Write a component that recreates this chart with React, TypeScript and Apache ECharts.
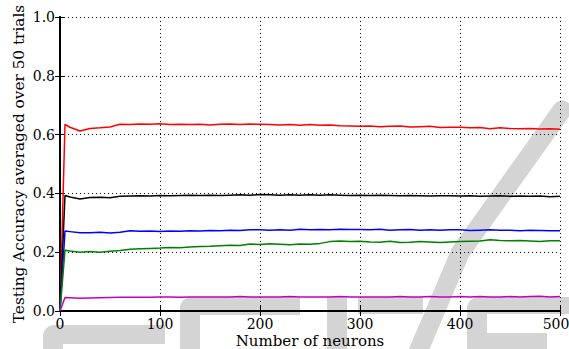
import React, { useEffect, useRef } from "react";
import * as echarts from "echarts";

const neurons = [0, 5, 10, 20, 30, 40, 50, 60, 70, 80, 90, 100, 110, 120, 130, 140, 150, 160, 170, 180, 190, 200, 210, 220, 230, 240, 250, 260, 270, 280, 290, 300, 310, 320, 330, 340, 350, 360, 370, 380, 390, 400, 410, 420, 430, 440, 450, 460, 470, 480, 490, 500];

const redSeries = [0, 0.635, 0.625, 0.612, 0.621, 0.623, 0.626, 0.635, 0.634, 0.636, 0.635, 0.637, 0.634, 0.635, 0.634, 0.635, 0.633, 0.635, 0.636, 0.634, 0.636, 0.635, 0.634, 0.633, 0.634, 0.632, 0.634, 0.632, 0.633, 0.63, 0.629, 0.628, 0.629, 0.627, 0.628, 0.629, 0.626, 0.627, 0.628, 0.624, 0.625, 0.625, 0.623, 0.624, 0.62, 0.623, 0.621, 0.62, 0.621, 0.619, 0.62, 0.618];

const blackSeries = [0, 0.393, 0.388, 0.381, 0.386, 0.387, 0.385, 0.39, 0.391, 0.392, 0.391, 0.393, 0.392, 0.393, 0.394, 0.393, 0.394, 0.393, 0.394, 0.395, 0.394, 0.396, 0.395, 0.394, 0.395, 0.394, 0.395, 0.394, 0.395, 0.394, 0.393, 0.394, 0.393, 0.394, 0.393, 0.392, 0.393, 0.392, 0.391, 0.392, 0.392, 0.391, 0.392, 0.39, 0.391, 0.392, 0.39, 0.391, 0.39, 0.391, 0.389, 0.39];

const blueSeries = [0, 0.272, 0.27, 0.266, 0.266, 0.268, 0.265, 0.268, 0.273, 0.271, 0.272, 0.27, 0.272, 0.271, 0.273, 0.272, 0.274, 0.273, 0.275, 0.274, 0.276, 0.276, 0.275, 0.276, 0.275, 0.278, 0.276, 0.277, 0.276, 0.278, 0.277, 0.277, 0.276, 0.278, 0.275, 0.276, 0.277, 0.275, 0.276, 0.275, 0.276, 0.276, 0.274, 0.275, 0.276, 0.275, 0.275, 0.273, 0.275, 0.274, 0.273, 0.273];

const greenSeries = [0, 0.207, 0.204, 0.2, 0.202, 0.2, 0.203, 0.206, 0.21, 0.212, 0.213, 0.214, 0.216, 0.215, 0.218, 0.219, 0.22, 0.222, 0.224, 0.223, 0.228, 0.226, 0.229, 0.227, 0.225, 0.228, 0.227, 0.23, 0.236, 0.238, 0.236, 0.237, 0.235, 0.234, 0.237, 0.233, 0.234, 0.236, 0.235, 0.233, 0.235, 0.236, 0.237, 0.238, 0.242, 0.24, 0.239, 0.24, 0.238, 0.236, 0.239, 0.239];

const magentaSeries = [0, 0.046, 0.045, 0.043, 0.044, 0.045, 0.046, 0.047, 0.047, 0.047, 0.047, 0.048, 0.048, 0.047, 0.048, 0.048, 0.048, 0.048, 0.048, 0.049, 0.048, 0.048, 0.048, 0.048, 0.049, 0.048, 0.048, 0.048, 0.048, 0.049, 0.048, 0.048, 0.048, 0.048, 0.048, 0.049, 0.048, 0.048, 0.049, 0.048, 0.048, 0.049, 0.048, 0.049, 0.048, 0.048, 0.049, 0.048, 0.049, 0.05, 0.048, 0.049];

const xTicks = [0, 100, 200, 300, 400, 500];
const yTicks = [0, 0.2, 0.4, 0.6, 0.8, 1.0];

const FONT = "DejaVu Serif";
const WM = "#d4d4d4";

export default function App() {
  const ref = useRef<HTMLDivElement>(null);
  useEffect(() => {
    if (!ref.current) return;
    const chart = echarts.init(ref.current, null, { renderer: "svg" });
    const mk = (ys: number[]) => neurons.map((x, i) => [x, ys[i]]);
    const axisLine = { show: true, lineStyle: { color: "#000", width: 2 } };
    const tick = { show: true, inside: true, length: 5, lineStyle: { color: "#000", width: 1 } };
    const split = { show: true, lineStyle: { color: "#000", width: 1, type: [1, 3] as any } };
    const xMax = xTicks[xTicks.length - 1];
    const series = [
      { data: mk(redSeries), color: "#ff0000" },
      { data: mk(blackSeries), color: "#000000" },
      { data: mk(blueSeries), color: "#0000ff" },
      { data: mk(greenSeries), color: "#008000" },
      { data: mk(magentaSeries), color: "#bf00bf" },
    ].map((s) => ({
      type: "line",
      data: s.data,
      showSymbol: false,
      xAxisIndex: 0,
      yAxisIndex: 0,
      lineStyle: { color: s.color, width: 1.5 },
      itemStyle: { color: s.color },
      z: 3,
    }));
    chart.setOption({
      animation: false,
      textStyle: { fontFamily: FONT },
      grid: { left: 60, right: 9, top: 17, bottom: 38, outerBoundsMode: "none", containLabel: false },
      graphic: [
        { type: "polyline", z: -1, shape: { points: [[418, 352], [460, 253], [562, 110]] }, style: { stroke: WM, lineWidth: 19, fill: null, lineCap: "round", lineJoin: "round" } },
        { type: "rect", z: -1, shape: { x: 43, y: 325, width: 122, height: 19, r: [12, 0, 0, 0] }, style: { fill: WM } },
        { type: "rect", z: -1, shape: { x: 43, y: 325, width: 20, height: 30, r: [12, 0, 0, 0] }, style: { fill: WM } },
        { type: "rect", z: -1, shape: { x: 180, y: 297, width: 120, height: 18, r: [12, 0, 0, 0] }, style: { fill: WM } },
        { type: "rect", z: -1, shape: { x: 180, y: 297, width: 20, height: 55, r: [12, 0, 0, 0] }, style: { fill: WM } },
        { type: "rect", z: -1, shape: { x: 327, y: 297, width: 20, height: 55 }, style: { fill: WM } },
        { type: "rect", z: -1, shape: { x: 358, y: 297, width: 65, height: 17 }, style: { fill: WM } },
        { type: "rect", z: -1, shape: { x: 467, y: 297, width: 102, height: 17, r: [12, 0, 0, 0] }, style: { fill: WM } },
        { type: "rect", z: -1, shape: { x: 467, y: 297, width: 20, height: 55, r: [12, 0, 0, 0] }, style: { fill: WM } },
        { type: "rect", z: -1, shape: { x: 467, y: 333, width: 80, height: 20 }, style: { fill: WM } },
      ],
      xAxis: [
        {
          type: "value",
          position: "bottom",
          min: xTicks[0],
          max: xMax,
          interval: xTicks[1] - xTicks[0],
          axisLine,
          axisTick: tick,
          splitLine: split,
          axisLabel: {
            color: "#000",
            fontFamily: FONT,
            fontSize: 14,
            lineHeight: 15,
            margin: 5,
            formatter: (v: number) => (v === xMax ? "{e|" + v + "}" : String(v)),
            rich: { e: { padding: [0, 8, 0, 0], fontFamily: FONT, fontSize: 14, lineHeight: 15, color: "#000" } },
          },
          name: "Number of neurons",
          nameLocation: "middle",
          nameGap: 22,
          nameMoveOverlap: false,
          nameTextStyle: { color: "#000", fontFamily: FONT, fontSize: 15, lineHeight: 15 },
        },
        {
          type: "value",
          position: "top",
          min: xTicks[0],
          max: xMax,
          interval: xTicks[1] - xTicks[0],
          axisLine,
          axisTick: tick,
          splitLine: { show: false },
          axisLabel: { show: false },
        },
      ],
      yAxis: [
        {
          type: "value",
          position: "left",
          min: yTicks[0],
          max: yTicks[yTicks.length - 1],
          interval: 0.2,
          axisLine,
          axisTick: tick,
          splitLine: split,
          axisLabel: { color: "#000", fontFamily: FONT, fontSize: 14, margin: 5, formatter: (v: number) => v.toFixed(1) },
          name: "Testing Accuracy averaged over 50 trials",
          nameLocation: "middle",
          nameGap: 34,
          nameMoveOverlap: false,
          nameTextStyle: { color: "#000", fontFamily: FONT, fontSize: 15.3 },
        },
        {
          type: "value",
          position: "right",
          min: yTicks[0],
          max: yTicks[yTicks.length - 1],
          interval: 0.2,
          axisLine,
          axisTick: tick,
          splitLine: { show: false },
          axisLabel: { show: false },
        },
      ],
      series,
    });
    return () => chart.dispose();
  }, []);
  return <div ref={ref} style={{ width: 569, height: 349, position: "absolute", left: 0, top: 0, background: "#fff" }} />;
}
